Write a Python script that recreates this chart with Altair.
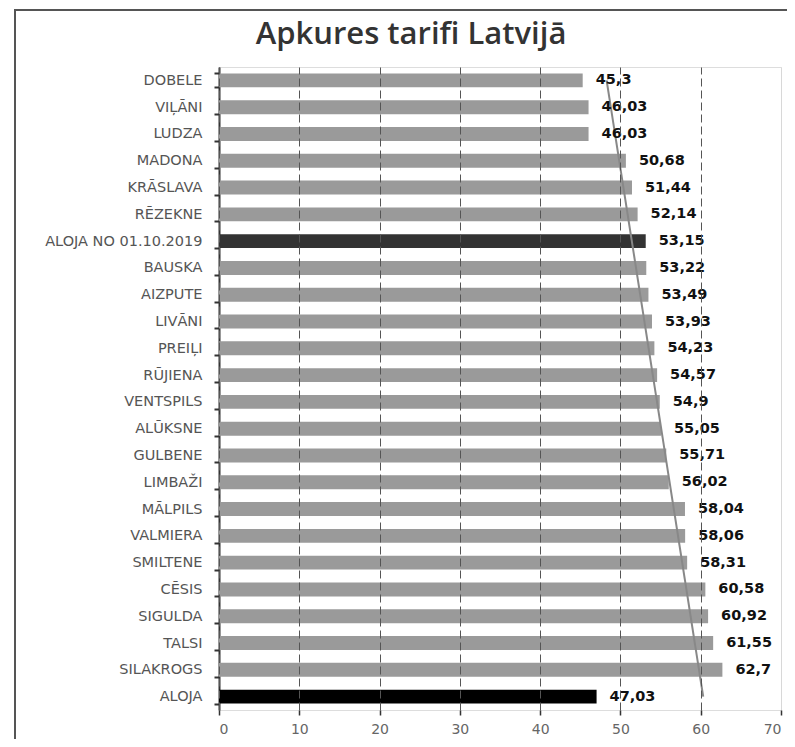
import altair as alt
import pandas as pd

cats = ["DOBELE", "VIĻĀNI", "LUDZA", "MADONA", "KRĀSLAVA", "RĒZEKNE",
        "ALOJA NO 01.10.2019", "BAUSKA", "AIZPUTE", "LIVĀNI", "PREIĻI",
        "RŪJIENA", "VENTSPILS", "ALŪKSNE", "GULBENE", "LIMBAŽI", "MĀLPILS",
        "VALMIERA", "SMILTENE", "CĒSIS", "SIGULDA", "TALSI", "SILAKROGS", "ALOJA"]
vals = [45.3, 46.03, 46.03, 50.68, 51.44, 52.14, 53.15, 53.22, 53.49, 53.93,
        54.23, 54.57, 54.9, 55.05, 55.71, 56.02, 58.04, 58.06, 58.31, 60.58,
        60.92, 61.55, 62.7, 47.03]
x_ticks = [0, 10, 20, 30, 40, 50, 60, 70]

df = pd.DataFrame({"cat": cats, "value": vals, "idx": list(range(len(cats)))})

W, H = 562, 643

y_enc = alt.Y("cat:N", sort=cats, title=None,
              scale=alt.Scale(paddingInner=0.48),
              axis=alt.Axis(labelFont="DejaVu Sans", labelFontSize=14.5,
                            labelColor="#555555", labelPadding=12,
                            domainColor="#333333", domainWidth=2,
                            tickColor="#333333", tickWidth=2, tickSize=5,
                            tickBand="extent", grid=False))
x_enc = alt.X("value:Q", title=None,
              scale=alt.Scale(domain=[0, 70], nice=False),
              axis=alt.Axis(values=x_ticks, labelFont="DejaVu Sans",
                            labelFontSize=14, labelColor="#666666",
                            labelPadding=7, domain=False,
                            tickColor="#333333", tickSize=5, tickWidth=1.5,
                            grid=True,
                            gridColor={"condition": {"test": "datum.value === 70", "value": "#d8d8d8"},
                                       "value": "#555555"},
                            gridDash={"condition": {"test": "datum.value === 70", "value": []},
                                      "value": [8, 4]},
                            gridWidth=1, zindex=1))

bars = alt.Chart(df).transform_calculate(
    col="datum.cat == 'ALOJA' ? '#000000' : (datum.cat == 'ALOJA NO 01.10.2019' ? '#333333' : '#9a9a9a')"
).mark_bar().encode(
    x=x_enc,
    y=y_enc,
    color=alt.Color("col:N", scale=None),
)

labels = alt.Chart(df).transform_calculate(
    lbl="replace(toString(datum.value), '.', ',')"
).mark_text(align="left", baseline="middle", dx=13, font="DejaVu Sans",
            fontSize=14.5, fontWeight="bold", color="#111111").encode(
    x=alt.X("value:Q"),
    y=alt.Y("cat:N", sort=cats),
    text="lbl:N",
)

trend = alt.Chart(df).transform_regression(
    "idx", "value"
).transform_lookup(
    lookup="idx", from_=alt.LookupData(data=df, key="idx", fields=["cat"])
).mark_line(color="#888888", strokeWidth=2).encode(
    x=alt.X("value:Q"),
    y=alt.Y("cat:N", sort=cats),
)

frame_left = alt.Chart(df).mark_rule(color="#555555", strokeWidth=2).encode(
    x=alt.value(-204), y=alt.value(-57), y2=alt.value(H + 34))
frame_top = alt.Chart(df).mark_rule(color="#555555", strokeWidth=2).encode(
    x=alt.value(-205), x2=alt.value(W + 20), y=alt.value(-57))

chart = alt.layer(bars, trend, labels, frame_left, frame_top).properties(
    width=W, height=H,
    title=alt.TitleParams("Apkures tarifi Latvijā", font="Open Sans",
                          fontSize=31, fontWeight=600, color="#333333",
                          anchor="middle", dx=-89, dy=56, offset=14),
    autosize=alt.AutoSizeParams(type="none"),
    padding={"left": 211, "top": 59, "right": 6, "bottom": 29},
).configure_view(stroke=None).configure(background="white")

chart.save("out.html", embed_options={"renderer": "svg", "actions": False})
